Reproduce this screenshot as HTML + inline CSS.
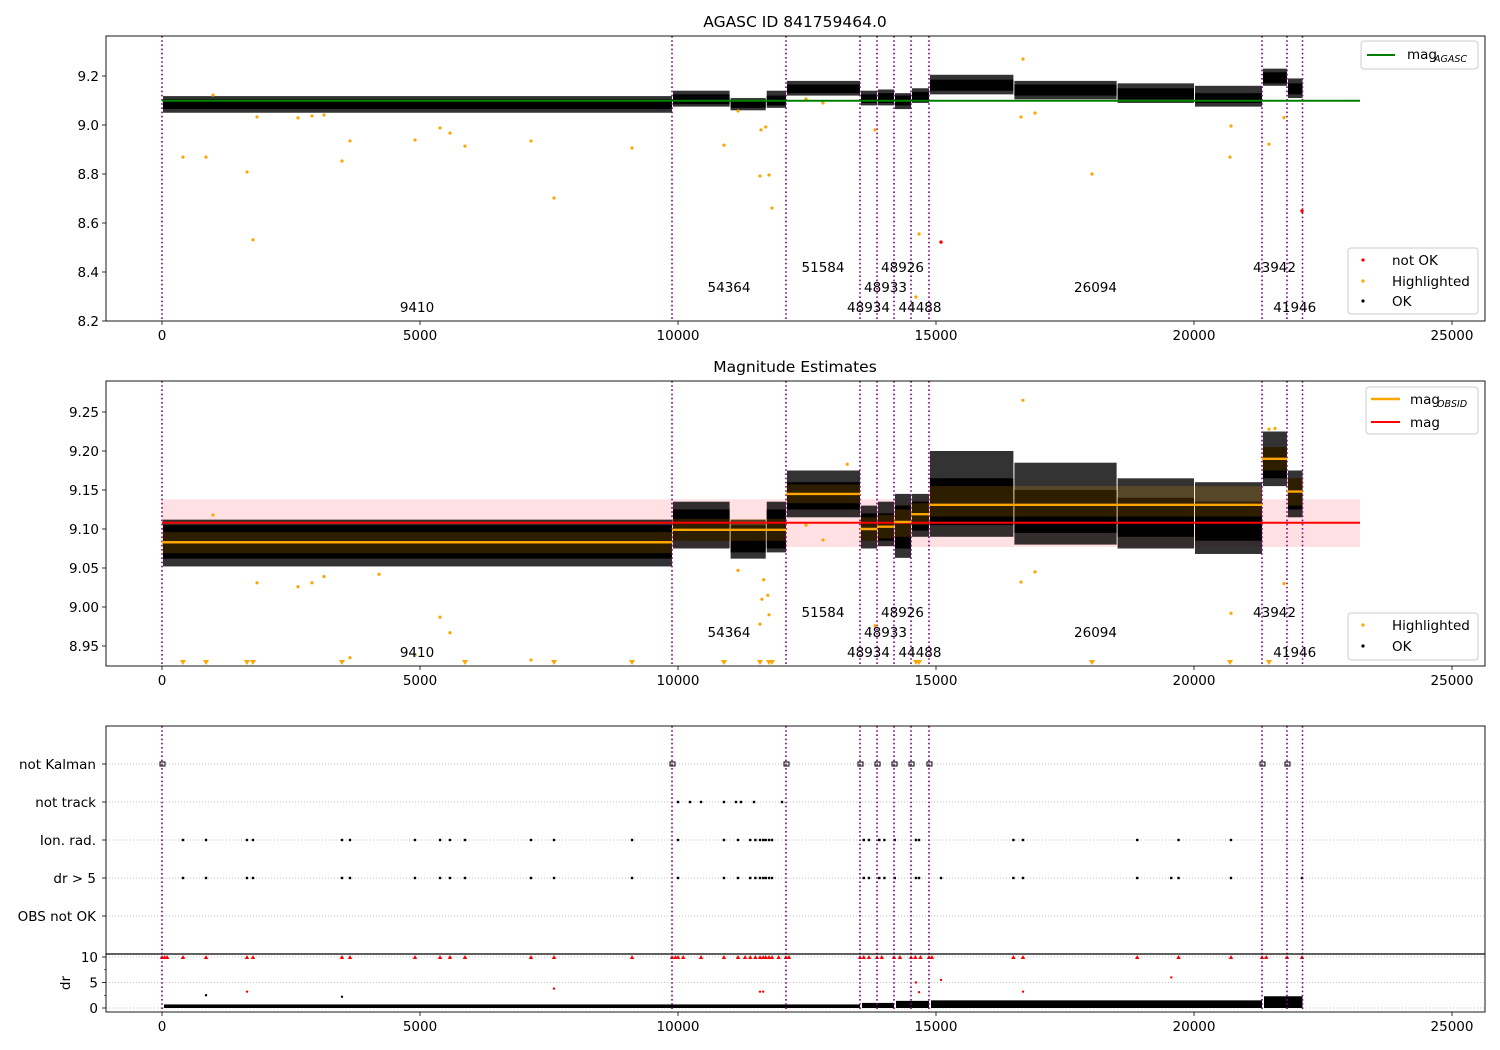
<!DOCTYPE html>
<html><head><meta charset="utf-8"><style>
html,body{margin:0;padding:0;background:#fff;}
svg{display:block;font-family:"DejaVu Sans","Liberation Sans",sans-serif;}
</style></head><body>
<svg id="fig" width="1500" height="1050" viewBox="0 0 1500 1050" xmlns="http://www.w3.org/2000/svg"></svg>
<script>
// ---- data ----
const obsids = ["9410","54364","51584","48934","48933","48926","44488","26094","43942","41946"];
const obsidStarts = [0, 9884, 12093, 13527, 13857, 14186, 14516, 14864, 21318, 21802];
const obsidEnds = [9884, 12093, 13527, 13857, 14186, 14516, 14864, 21318, 21802, 22103];
const labelLevels = [2,1,0,2,1,0,2,1,0,2];
const magAgasc = 9.099;
const magMean = 9.108, magLo = 9.077, magHi = 9.138;
const magObsid = [9.083, 9.099, 9.145, 9.100, 9.103, 9.109, 9.119, 9.131, 9.190, 9.148];
const magObsidLo = [9.069, 9.085, 9.133, 9.085, 9.088, 9.090, 9.105, 9.116, 9.175, 9.130];
const magObsidHi = [9.096, 9.113, 9.157, 9.115, 9.118, 9.125, 9.133, 9.155, 9.205, 9.165];
// OK cloud blocks: start, end, core lo/hi, spike lo/hi
const cloudStart = [0, 9884, 11000, 11700, 12093, 13527, 13857, 14186, 14516, 14864, 16500, 18500, 20000, 21318, 21802];
const cloudEnd   = [9884, 11000, 11700, 12093, 13527, 13857, 14186, 14516, 14864, 16500, 18500, 20000, 21318, 21802, 22103];
const cloud1Lo = [9.065, 9.085, 9.07, 9.08, 9.13, 9.09, 9.09, 9.08, 9.095, 9.14, 9.12, 9.105, 9.09, 9.17, 9.125];
const cloud1Hi = [9.105, 9.125, 9.10, 9.12, 9.165, 9.125, 9.13, 9.12, 9.135, 9.185, 9.165, 9.15, 9.13, 9.215, 9.17];
const spike1Lo = [9.05, 9.075, 9.06, 9.07, 9.12, 9.08, 9.08, 9.065, 9.09, 9.125, 9.105, 9.09, 9.075, 9.16, 9.11];
const spike1Hi = [9.118, 9.14, 9.11, 9.14, 9.18, 9.14, 9.145, 9.13, 9.15, 9.205, 9.18, 9.17, 9.16, 9.23, 9.19];
const cloud2Lo = [9.062, 9.085, 9.07, 9.075, 9.125, 9.085, 9.085, 9.075, 9.098, 9.105, 9.095, 9.09, 9.085, 9.165, 9.125];
const cloud2Hi = [9.105, 9.125, 9.105, 9.125, 9.16, 9.12, 9.12, 9.13, 9.135, 9.165, 9.15, 9.14, 9.135, 9.205, 9.165];
const spike2Lo = [9.052, 9.075, 9.062, 9.07, 9.115, 9.075, 9.078, 9.063, 9.09, 9.09, 9.08, 9.075, 9.068, 9.155, 9.115];
const spike2Hi = [9.112, 9.135, 9.112, 9.135, 9.175, 9.13, 9.135, 9.145, 9.145, 9.2, 9.185, 9.165, 9.16, 9.225, 9.175];
// highlighted points panel 1
const hl1T = [407,853,1647,1764,1841,2636,2907,3140,3488,3643,4903,5388,5581,5872,7151,7597,9109,10891,11163,11589,11764,11822,11609,11700,988,16686,16647,16919,18023,20717,20698,21453,21744,14671,14612,13818,12810,12481];
const hl1M = [8.869,8.869,8.808,8.531,9.033,9.029,9.037,9.041,8.853,8.935,8.939,8.988,8.967,8.914,8.935,8.702,8.906,8.918,9.057,8.792,8.796,8.661,8.98,8.992,9.122,9.269,9.033,9.049,8.80,8.996,8.869,8.922,9.03,8.555,8.298,8.98,9.09,9.106];
const notOkT = [15097, 22093];
const notOkM = [8.522, 8.649];
// highlighted points panel 2
const hl2T = [988,1841,2636,2907,3140,5388,5581,3643,4903,7151,4206,11589,11764,11625,11740,11660,11163,16686,16647,16919,20717,21744,21453,21570,12810,12481,13280,13818];
const hl2M = [9.118,9.031,9.026,9.031,9.039,8.987,8.967,8.935,8.938,8.932,9.042,8.978,8.99,9.01,9.015,9.035,9.047,9.265,9.032,9.045,8.992,9.03,9.228,9.229,9.086,9.105,9.183,8.976];
const belowT = [407,853,1647,1764,3488,5872,7597,9109,10891,11589,11764,11822,14612,14671,18023,20698,21453];
// flags
const notKalmanT = [0,9884,12093,13527,13857,14186,14516,14864,21318,21802];
const notTrackT = [10000,10233,10446,10891,11124,11221,11473,12016];
const ionRadT = [407,853,1647,1764,3488,3643,4903,5388,5581,5872,7151,7597,9109,10000,10891,11163,11400,11500,11589,11650,11700,11764,11822,13600,13700,13900,14000,14200,14612,14671,16500,16686,18900,19700,20717];
const drGt5T = [407,853,1647,1764,3488,3643,4903,5388,5581,5872,7151,7597,9109,10000,10891,11163,11400,11500,11589,11650,11700,11764,11822,13600,13700,13900,14000,14200,14612,14671,15097,16500,16686,18900,19560,19700,20717,22093];
const drClipT = [0,50,100,407,853,1647,1764,3488,3643,4903,5388,5581,5872,7151,7597,9109,9884,9950,10000,10100,10446,10891,11163,11300,11400,11500,11589,11650,11700,11764,11822,11950,12093,12150,13527,13600,13700,13857,13950,14186,14300,14516,14600,14700,14864,14920,16500,16686,18900,19700,20717,21318,21400,21802,22093];
const drOutT = [853,1647,3488,7597,11589,11650,14612,14671,15097,16686,19560];
const drOutM = [2.5,3.2,2.2,3.8,3.2,3.2,5.0,3.1,5.5,3.2,6.0];
const drBandStart = [0, 13527, 14186, 14864, 21318];
const drBandEnd = [13527, 14186, 14864, 21318, 22103];
const drBandHi = [0.7, 1.0, 1.4, 1.5, 2.3];
const xTicks = [0,5000,10000,15000,20000,25000];
const y1Ticks = [8.2,8.4,8.6,8.8,9.0,9.2];
const y2Ticks = [8.95,9.00,9.05,9.10,9.15,9.20,9.25];
const flagLabels = ["not Kalman","not track","Ion. rad.","dr > 5","OBS not OK"];
const drTicks = [0,5,10];

// ---- geometry ----
const L=106, R=1485;
const P1={t:36,b:321}, P2={t:381,b:666}, P3={t:726,b:1012};
const X = u => 162 + u*0.0516;
const Y1 = m => 76 + (9.2-m)*245;
const Y2 = m => 529 + (9.1-m)*780;
const YD = d => 1008 - d*5.1;
const flagY = [764,802,840,878,916];
const NS="http://www.w3.org/2000/svg";
const svg=document.getElementById('fig');
function el(tag,attrs,parent){const e=document.createElementNS(NS,tag);for(const k in attrs)e.setAttribute(k,attrs[k]);(parent||svg).appendChild(e);return e;}
function txt(s,x,y,attrs,parent){const t=el('text',Object.assign({x:x,y:y,'font-size':14,fill:'#000'},attrs||{}),parent);t.textContent=s;return t;}
function group(name){const g=el('g',{});return g;}

function xAxis(P,gname){
  const g=group(gname);
  xTicks.forEach(v=>{el('line',{x1:X(v),x2:X(v),y1:P.b,y2:P.b+4,stroke:'#000','stroke-width':0.8},g);
    const t=txt(String(v),X(v),P.b+19,{'text-anchor':'middle','font-size':13.5},g);
    });
}
function vlines(P,gname){
  const g=group(gname);
  obsidStarts.concat([obsidEnds[obsidEnds.length-1]]).forEach(u=>{
    el('line',{x1:X(u),x2:X(u),y1:P.t,y2:P.b,stroke:'#800080','stroke-width':1.6,'stroke-dasharray':'1.6,2.6'},g);});
}
function obsLabels(base,gname){
  const g=group(gname);
  obsids.forEach((o,i)=>{const xm=X((obsidStarts[i]+obsidEnds[i])/2);
    const t=txt(o,xm,base+labelLevels[i]*20+5,{'text-anchor':'middle','font-size':13.5},g);
    });
}
function frame(P,name){const r=el('rect',{x:L,y:P.t,width:R-L,height:P.b-P.t,fill:'none',stroke:'#000','stroke-width':0.9});
  }
function cloud(Y,lo,hi,slo,shi,name){
  const g=group(name);
  cloudStart.forEach((s,i)=>{
    const x=X(s)+1,w=X(cloudEnd[i])-X(s)-1;
    const r1=el('rect',{x:x,y:Y(shi[i]),width:w,height:Y(slo[i])-Y(shi[i]),fill:'#000',opacity:0.8},g);
    
    const r=el('rect',{x:x,y:Y(hi[i]),width:w,height:Y(lo[i])-Y(hi[i]),fill:'#000'},g);
    });
}

// ===== Panel 1 =====
let t=txt('AGASC ID 841759464.0',795,27,{'text-anchor':'middle','font-size':15.5});

let g=group('panel1-y-axis');
y1Ticks.forEach(v=>{el('line',{x1:L-4,x2:L,y1:Y1(v),y2:Y1(v),stroke:'#000','stroke-width':0.8},g);
  const tt=txt(v.toFixed(1),L-7,Y1(v)+5,{'text-anchor':'end','font-size':13.5},g);
  });
cloud(Y1,cloud1Lo,cloud1Hi,spike1Lo,spike1Hi,'panel1-ok-cloud');
vlines(P1,'panel1-obsid-lines');
g=group('panel1-highlighted');
hl1T.forEach((u,i)=>{const c=el('circle',{cx:X(u),cy:Y1(hl1M[i]),r:1.6,fill:'orange'},g);
  });
g=group('panel1-not-ok');
notOkT.forEach((u,i)=>{const c=el('circle',{cx:X(u),cy:Y1(notOkM[i]),r:1.7,fill:'red'},g);
  });
let ln=el('line',{x1:X(0),x2:X(23217),y1:Y1(magAgasc),y2:Y1(magAgasc),stroke:'green','stroke-width':2});

obsLabels(267,'panel1-obsid-labels');
frame(P1,'panel1-frame');
xAxis(P1,'panel1-x-axis');

// ===== Panel 2 =====
t=txt('Magnitude Estimates',795,372,{'text-anchor':'middle','font-size':15.5});

g=group('panel2-y-axis');
y2Ticks.forEach(v=>{el('line',{x1:L-4,x2:L,y1:Y2(v),y2:Y2(v),stroke:'#000','stroke-width':0.8},g);
  const tt=txt(v.toFixed(2),L-7,Y2(v)+5,{'text-anchor':'end','font-size':13.5},g);
  });
let band=el('rect',{x:X(0),y:Y2(magHi),width:X(23217)-X(0),height:Y2(magLo)-Y2(magHi),fill:'#ffd6d9',opacity:0.75});

cloud(Y2,cloud2Lo,cloud2Hi,spike2Lo,spike2Hi,'panel2-ok-cloud');
g=group('panel2-obsid-shade');
obsids.forEach((o,i)=>{const r=el('rect',{x:X(obsidStarts[i]),y:Y2(magObsidHi[i]),width:X(obsidEnds[i])-X(obsidStarts[i]),height:Y2(magObsidLo[i])-Y2(magObsidHi[i]),fill:'orange',opacity:0.18},g);
  });
vlines(P2,'panel2-obsid-lines');
g=group('panel2-highlighted');
hl2T.forEach((u,i)=>{const c=el('circle',{cx:X(u),cy:Y2(hl2M[i]),r:1.6,fill:'orange'},g);
  });
g=group('panel2-below-range');
belowT.forEach(u=>{const x=X(u),y=663;const p=el('polygon',{points:`${x-3},${y-3} ${x+3},${y-3} ${x},${y+2}`,fill:'orange'},g);
  });
ln=el('line',{x1:X(0),x2:X(23217),y1:Y2(magMean),y2:Y2(magMean),stroke:'red','stroke-width':2});

g=group('panel2-obsid-mag-lines');
obsids.forEach((o,i)=>{const l=el('line',{x1:X(obsidStarts[i]),x2:X(obsidEnds[i]),y1:Y2(magObsid[i]),y2:Y2(magObsid[i]),stroke:'orange','stroke-width':2.4},g);
  });
obsLabels(612,'panel2-obsid-labels');
frame(P2,'panel2-frame');
xAxis(P2,'panel2-x-axis');

// ===== Panel 3 =====
g=group('flag-grid');
flagY.forEach((y,i)=>{el('line',{x1:L,x2:R,y1:y,y2:y,stroke:'#b0b0b0','stroke-width':0.8,'stroke-dasharray':'1,2'},g);
  el('line',{x1:L-4,x2:L,y1:y,y2:y,stroke:'#000','stroke-width':0.8},g);
  const tt=txt(flagLabels[i],96,y+5,{'text-anchor':'end','font-size':13.5},g);
  });
drTicks.forEach(v=>{el('line',{x1:L,x2:R,y1:YD(v),y2:YD(v),stroke:'#b0b0b0','stroke-width':0.8,'stroke-dasharray':'1,2'},g);
  el('line',{x1:L-4,x2:L,y1:YD(v),y2:YD(v),stroke:'#000','stroke-width':0.8},g);
  const tt=txt(String(v),L-8,YD(v)+5,{'text-anchor':'end','font-size':13.5},g);
  });
[2.5,7.5].forEach(v=>el('line',{x1:L-2,x2:L,y1:YD(v),y2:YD(v),stroke:'#000','stroke-width':0.6},g));
t=txt('dr',0,0,{'text-anchor':'middle','font-size':13.5,transform:'translate(70,983) rotate(-90)'});

g=group('dr-band');
drBandStart.forEach((s,i)=>{const r=el('rect',{x:X(s)+2,y:YD(drBandHi[i]),width:X(drBandEnd[i])-X(s)-2,height:YD(0)-YD(drBandHi[i]),fill:'#000'},g);
  });
g=group('dr-outliers');
drOutT.forEach((u,i)=>{const c=el('circle',{cx:X(u),cy:YD(drOutM[i]),r:1.2,fill:(drOutM[i]>3?'red':'#000')},g);
  });
g=group('dr-clipped');
drClipT.forEach(u=>{const x=X(u),y=YD(10);const p=el('polygon',{points:`${x-2.2},${y+2} ${x+2.2},${y+2} ${x},${y-2}`,fill:'red'},g);
  });
function flagDots(arr,row,name,sq){const gg=group(name);arr.forEach(u=>{
  const r=el('rect',{x:X(u)-(sq?2:1),y:flagY[row]-(sq?2:1),width:sq?5:2,height:sq?4:2,fill:sq?'none':'#000',stroke:'#000','stroke-width':sq?1:0.4},gg);
  });}
flagDots(notKalmanT,0,'not-kalman-flags',true);
flagDots(notTrackT,1,'not-track-flags',false);
flagDots(ionRadT,2,'ion-rad-flags',false);
flagDots(drGt5T,3,'dr-gt5-flags',false);
vlines(P3,'panel3-obsid-lines');
el('line',{x1:L,x2:R,y1:954,y2:954,stroke:'#000','stroke-width':1.2});
frame(P3,'panel3-frame');
xAxis(P3,'panel3-x-axis');

// ===== Legends =====
function legendBox(x,y,w,h,name){const r=el('rect',{x:x,y:y,width:w,height:h,rx:3,fill:'#fff','fill-opacity':0.85,stroke:'#ccc','stroke-width':1});
  }
legendBox(1361,41,117,28,'legend-agasc');
el('line',{x1:1367,x2:1395,y1:55,y2:55,stroke:'green','stroke-width':2});
t=txt('mag',1407,59,{'font-size':13.5});
txt('AGASC',1434,62,{'font-size':9.5,'font-style':'italic'});
legendBox(1348,248,130,66,'legend-status');
[['red','not OK',260],['orange','Highlighted',281],['#000','OK',301]].forEach(e=>{el('circle',{cx:1363,cy:e[2],r:1.6,fill:e[0]});
  const tt=txt(e[1],1392,e[2]+5,{'font-size':13.5});});
legendBox(1366,387,112,47,'legend-mag');
el('line',{x1:1371,x2:1400,y1:399,y2:399,stroke:'orange','stroke-width':2.4});
t=txt('mag',1410,404,{'font-size':13.5});
txt('OBSID',1437,407,{'font-size':9.5,'font-style':'italic'});
el('line',{x1:1371,x2:1400,y1:422,y2:422,stroke:'red','stroke-width':2});
t=txt('mag',1410,427,{'font-size':13.5});
legendBox(1348,613,130,47,'legend-status-2');
[['orange','Highlighted',625],['#000','OK',646]].forEach(e=>{el('circle',{cx:1363,cy:e[2],r:1.6,fill:e[0]});
  const tt=txt(e[1],1392,e[2]+5,{'font-size':13.5});});
</script>
</body></html>
